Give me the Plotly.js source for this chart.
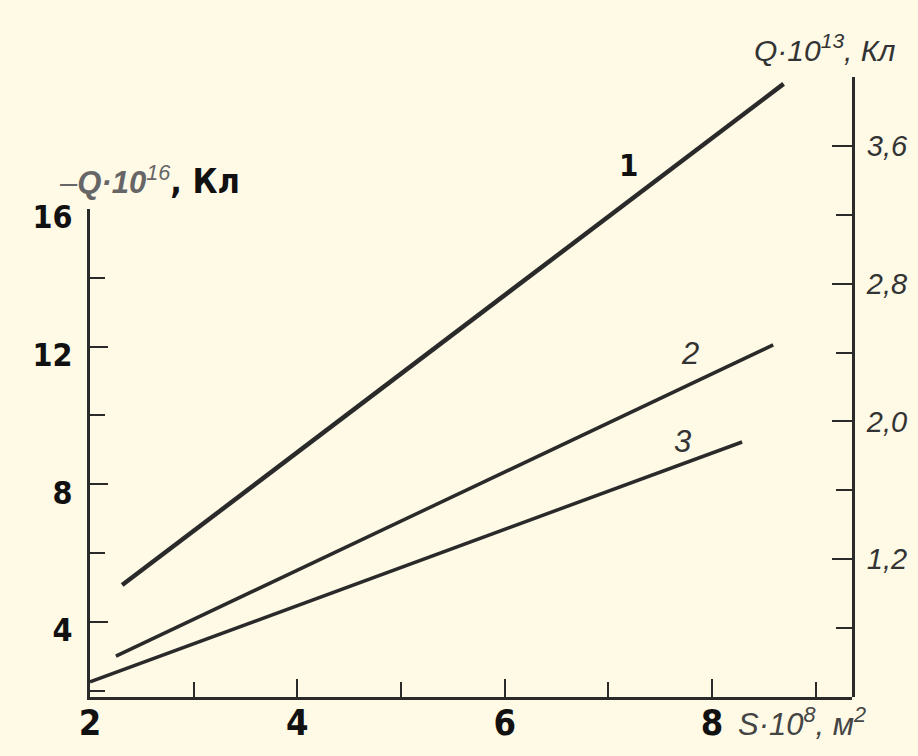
<!DOCTYPE html>
<html>
<head>
<meta charset="utf-8">
<script src="https://cdn.plot.ly/plotly-3.0.1.min.js"></script>
<style>
html,body{margin:0;padding:0;background:#fefae6;}
#chart{width:918px;height:756px;}
</style>
</head>
<body>
<div id="chart"></div>
<script>
// Curve 1 (right axis, Q·10^13 Кл)
const s1 = [2.31, 8.69];
const q1 = [1.05, 3.96];
// Curve 2 (left axis, -Q·10^16 Кл)
const s2 = [2.25, 8.59];
const q2 = [3.01, 12.05];
// Curve 3 (left axis)
const s3 = [2.0, 8.29];
const q3 = [2.26, 9.23];

const xTicks = [2, 4, 6, 8];
const xTickText = ['2', '4', '6', '8'];
const yLeftTicks = [4, 8, 12, 16];
const yLeftTickText = ['4', '8', '12', '16'];
const yRightTicks = [1.2, 2.0, 2.8, 3.6];
const yRightTickText = ['1,2', '2,0', '2,8', '3,6'];
const curveLabels = ['1', '2', '3'];

const ink = '#2a2a2a';
const boldFont = "'DejaVu Sans Condensed', 'Liberation Sans Narrow', 'DejaVu Sans', sans-serif";
const italFont = "'Liberation Sans', 'DejaVu Sans', sans-serif";

const traces = [
  {x: s1, y: q1, xaxis: 'x', yaxis: 'y2', mode: 'lines', line: {color: ink, width: 4.5}, hoverinfo: 'skip'},
  {x: s2, y: q2, xaxis: 'x', yaxis: 'y', mode: 'lines', line: {color: ink, width: 3.5}, hoverinfo: 'skip'},
  {x: s3, y: q3, xaxis: 'x', yaxis: 'y', mode: 'lines', line: {color: ink, width: 3.5}, hoverinfo: 'skip'}
];

const L = 90, R = 852, T = 77, B = 697;
const px = v => (v - L) / (R - L);
const py = v => (B - v) / (B - T);

const layout = {
  width: 918, height: 756, autosize: false,
  margin: {l: L, r: 918 - R, t: T, b: 756 - B, pad: 0},
  paper_bgcolor: '#fefae6', plot_bgcolor: 'rgba(0,0,0,0)',
  showlegend: false,
  xaxis: {
    range: [2, 9.35], domain: [0, 1], anchor: 'y',
    showline: true, linecolor: ink, linewidth: 3,
    showgrid: false, zeroline: false,
    ticks: 'inside', ticklen: 18, tickwidth: 2, tickcolor: ink,
    tickmode: 'array', tickvals: xTicks, ticktext: xTickText,
    tickfont: {family: boldFont, size: 36, color: '#111', weight: 'bold'},
    ticklabelstandoff: -8,
    minor: {dtick: 1, tick0: 2, ticks: 'inside', ticklen: 15, tickwidth: 2, tickcolor: ink, showgrid: false}
  },
  yaxis: {
    range: [1.82, 16], domain: [0, (B - 209) / (B - T)], anchor: 'x', side: 'left',
    showline: true, linecolor: ink, linewidth: 3,
    showgrid: false, zeroline: false,
    ticks: 'inside', ticklen: 18, tickwidth: 2, tickcolor: ink,
    tickmode: 'array', tickvals: yLeftTicks, ticktext: yLeftTickText,
    tickfont: {family: boldFont, size: 32, color: '#111', weight: 'bold'},
    ticklabelstandoff: 8, ticklabelshift: 8,
    minor: {dtick: 2, tick0: 0, ticks: 'inside', ticklen: 15, tickwidth: 2, tickcolor: ink, showgrid: false}
  },
  yaxis2: {
    range: [0.4, 4.0], domain: [0, 1], anchor: 'x', side: 'right',
    showline: true, linecolor: ink, linewidth: 3,
    showgrid: false, zeroline: false,
    ticks: 'inside', ticklen: 20, tickwidth: 2, tickcolor: ink,
    tickmode: 'array', tickvals: yRightTicks, ticktext: yRightTickText,
    tickfont: {family: italFont, size: 29, color: '#333', style: 'italic'},
    ticklabelstandoff: 6,
    minor: {dtick: 0.4, tick0: 0.4, ticks: 'inside', ticklen: 16, tickwidth: 2, tickcolor: ink, showgrid: false}
  },
  annotations: [
    {xref: 'paper', yref: 'paper', x: px(58), y: py(180), xanchor: 'left', yanchor: 'middle', showarrow: false,
     text: "<span style='color:#666;font-family:Liberation Sans;font-size:31px'>–<i><b>Q·10</b></i><sup><i>16</i></sup></span><b>, Кл</b>",
     font: {family: boldFont, size: 34, color: '#111'}},
    {xref: 'paper', yref: 'paper', x: px(752), y: py(48), xanchor: 'left', yanchor: 'middle', showarrow: false,
     text: "<i>Q·10<sup>13</sup>, Кл</i>",
     font: {family: italFont, size: 30, color: '#333'}},
    {xref: 'paper', yref: 'paper', x: px(736), y: py(722), xanchor: 'left', yanchor: 'middle', showarrow: false,
     text: "<i>S·10<sup>8</sup>, м<sup>2</sup></i>",
     font: {family: italFont, size: 31, color: '#444'}},
    {xref: 'paper', yref: 'paper', x: px(628), y: py(165), xanchor: 'center', yanchor: 'middle', showarrow: false,
     text: curveLabels[0], font: {family: boldFont, size: 31, color: '#111', weight: 'bold'}},
    {xref: 'paper', yref: 'paper', x: px(690), y: py(353), xanchor: 'center', yanchor: 'middle', showarrow: false,
     text: '<i>' + curveLabels[1] + '</i>', font: {family: italFont, size: 31, color: '#333'}},
    {xref: 'paper', yref: 'paper', x: px(682), y: py(442), xanchor: 'center', yanchor: 'middle', showarrow: false,
     text: '<i>' + curveLabels[2] + '</i>', font: {family: italFont, size: 31, color: '#333'}}
  ]
};

Plotly.newPlot('chart', traces, layout, {displayModeBar: false, staticPlot: true});
</script>
</body>
</html>
